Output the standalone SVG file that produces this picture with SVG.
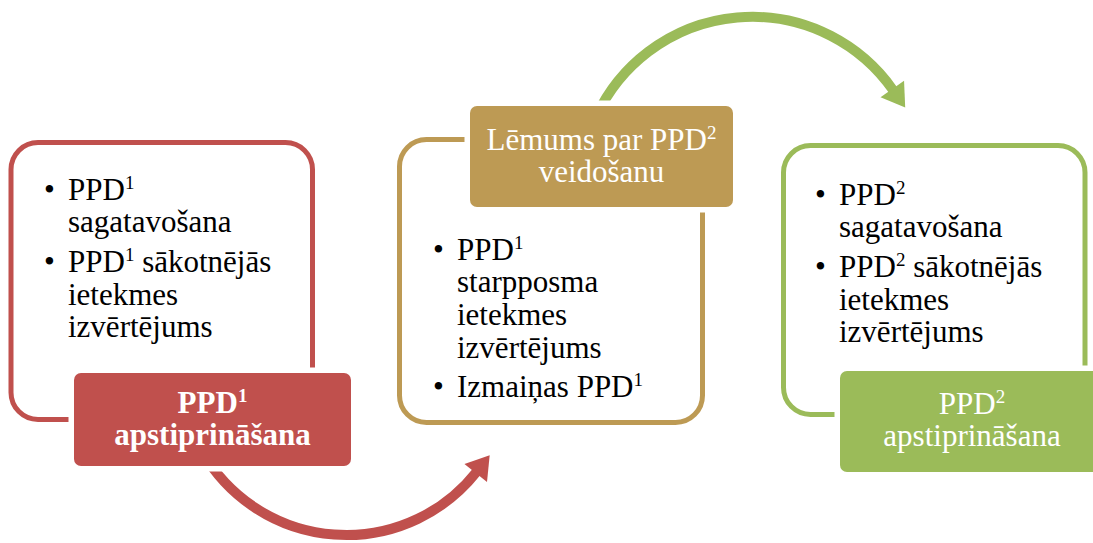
<svg xmlns="http://www.w3.org/2000/svg" width="1093" height="543" viewBox="0 0 1093 543" font-family="'Liberation Serif', 'Times New Roman', 'DejaVu Serif', serif">
<style>
text{font-size:31px}
.body{fill:#000}
.title{fill:#fff;text-anchor:middle}
.b{font-weight:bold}
.sup{font-size:19px}
.frame{fill:#fff;stroke-width:5}
.tag{stroke:#fff;stroke-width:11;paint-order:stroke fill}
.arc{fill:none;stroke-width:10}
</style>
<defs>
<marker id="headRed" markerUnits="userSpaceOnUse" markerWidth="30" markerHeight="30" viewBox="-2 -12 20 24" refX="0" refY="0" orient="auto">
<path d="M-1,-11.5 L17,0 L-1,11.5 Z" fill="#C0504D"/>
</marker>
<marker id="headGreen" markerUnits="userSpaceOnUse" markerWidth="30" markerHeight="30" viewBox="-2 -12 20 24" refX="0" refY="0" orient="auto">
<path d="M-1,-11.5 L17,0 L-1,11.5 Z" fill="#9BBB59"/>
</marker>
</defs>

<g id="frames">
<rect id="frame1" class="frame" x="11" y="142.5" width="301.5" height="277" rx="27" stroke="#C0504D"/>
<rect id="frame2" class="frame" x="399.5" y="139.5" width="303" height="283" rx="27" stroke="#BD9A54"/>
<rect id="frame3" class="frame" x="783.5" y="145.5" width="301.5" height="269" rx="27" stroke="#9BBB59"/>
</g>

<g id="connectors">
<path class="arc" d="M202.5,452 A166,166 0 0 0 476.5,472" stroke="#C0504D" marker-end="url(#headRed)"/>
<path class="arc" d="M596.4,116.1 A172,172 0 0 1 893,90" stroke="#9BBB59" marker-end="url(#headGreen)"/>
</g>

<g id="node1">
<text class="body" x="44" y="200">•</text>
<text class="body" x="68" y="200">PPD<tspan class="sup" dy="-11">1</tspan></text>
<text class="body" x="68" y="232">sagatavošana</text>
<text class="body" x="44" y="272">•</text>
<text class="body" x="68" y="272">PPD<tspan class="sup" dy="-11">1</tspan><tspan dy="11"> sākotnējās</tspan></text>
<text class="body" x="68" y="305">ietekmes</text>
<text class="body" x="68" y="337">izvērtējums</text>
<rect class="tag" x="74" y="373" width="277" height="93" rx="7" fill="#C0504D"/>
<text class="title b" x="212.5" y="413">PPD<tspan class="sup" dy="-11">1</tspan></text>
<text class="title b" x="212.5" y="445">apstiprināšana</text>
</g>

<g id="node2">
<rect class="tag" x="470" y="106" width="263" height="101" rx="7" fill="#BD9A54"/>
<text class="title" x="601.5" y="150">Lēmums par PPD<tspan class="sup" dy="-11">2</tspan></text>
<text class="title" x="601.5" y="182">veidošanu</text>
<text class="body" x="433" y="260">•</text>
<text class="body" x="457" y="260">PPD<tspan class="sup" dy="-11">1</tspan></text>
<text class="body" x="457" y="292">starpposma</text>
<text class="body" x="457" y="325">ietekmes</text>
<text class="body" x="457" y="358">izvērtējums</text>
<text class="body" x="433" y="397">•</text>
<text class="body" x="457" y="397">Izmaiņas PPD<tspan class="sup" dy="-11">1</tspan></text>
</g>

<g id="node3">
<text class="body" x="815" y="205">•</text>
<text class="body" x="839" y="205">PPD<tspan class="sup" dy="-11">2</tspan></text>
<text class="body" x="839" y="237">sagatavošana</text>
<text class="body" x="815" y="277">•</text>
<text class="body" x="839" y="277">PPD<tspan class="sup" dy="-11">2</tspan><tspan dy="11"> sākotnējās</tspan></text>
<text class="body" x="839" y="310">ietekmes</text>
<text class="body" x="839" y="342">izvērtējums</text>
<rect class="tag" x="840" y="371" width="265" height="101" rx="7" fill="#9BBB59"/>
<text class="title" x="972" y="414">PPD<tspan class="sup" dy="-11">2</tspan></text>
<text class="title" x="972" y="446">apstiprināšana</text>
</g>
</svg>
